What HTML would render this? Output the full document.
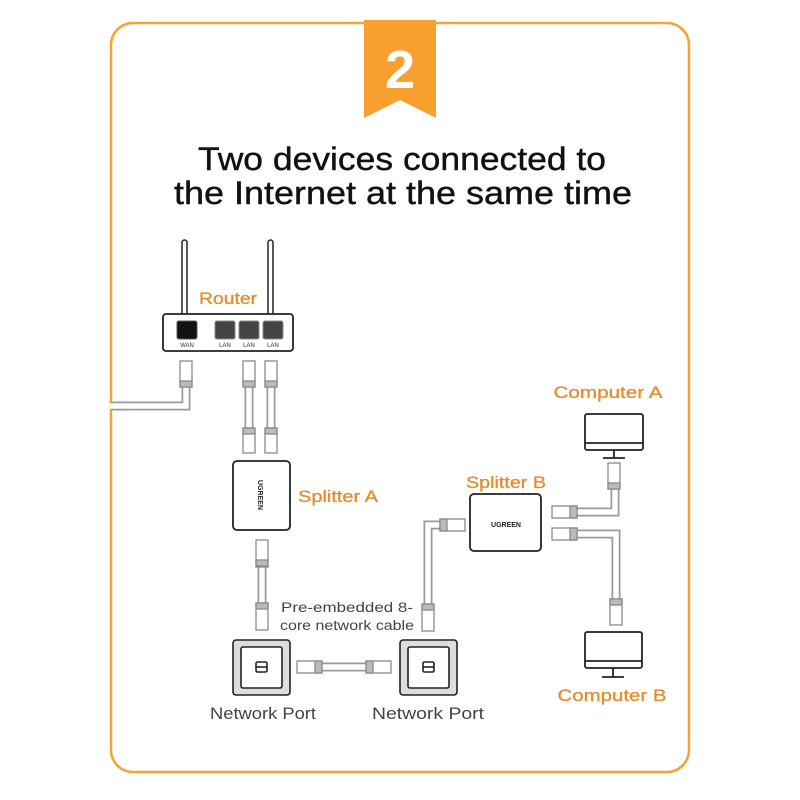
<!DOCTYPE html>
<html><head><meta charset="utf-8"><style>
html,body{margin:0;padding:0;background:#fff;}
svg{display:block;}
text{font-family:"Liberation Sans",sans-serif;}
</style></head><body>
<svg width="800" height="800" viewBox="0 0 800 800" xmlns="http://www.w3.org/2000/svg">
<rect x="0" y="0" width="800" height="800" fill="#fff"/>
<rect x="111" y="23" width="578" height="749" rx="22" fill="none" stroke="#f5a334" stroke-width="2.5"/>
<!-- badge -->
<polygon points="364,20 436,20 436,118 400,100 364,118" fill="#f7a030"/>
<text x="400" y="88" text-anchor="middle" font-size="54" font-weight="bold" fill="#fff">2</text>
<!-- title -->
<text x="402" y="170" text-anchor="middle" font-size="32" fill="#111" stroke="#111" stroke-width="0.4" textLength="408" lengthAdjust="spacingAndGlyphs">Two devices connected to</text>
<text x="403" y="204" text-anchor="middle" font-size="32" fill="#111" stroke="#111" stroke-width="0.4" textLength="458" lengthAdjust="spacingAndGlyphs">the Internet at the same time</text>

<g fill="none" stroke-linejoin="miter">
 <g stroke="#9a9a9a" stroke-width="9">
  <polyline points="186,385 186,406 111,406"/>
  <line x1="249" y1="385" x2="249" y2="430"/>
  <line x1="271" y1="385" x2="271" y2="430"/>
  <line x1="262" y1="565" x2="262" y2="605"/>
  <line x1="300" y1="667" x2="390" y2="667"/>
  <polyline points="428,607 428,525 445,525"/>
  <polyline points="572,512 615,512 615,485"/>
  <polyline points="572,534 616,534 616,602"/>
 </g>
 <g stroke="#fff" stroke-width="5.5">
  <polyline points="186,385 186,406 110,406"/>
  <line x1="249" y1="384" x2="249" y2="431"/>
  <line x1="271" y1="384" x2="271" y2="431"/>
  <line x1="262" y1="564" x2="262" y2="606"/>
  <line x1="299" y1="667" x2="391" y2="667"/>
  <polyline points="428,608 428,525 446,525"/>
  <polyline points="571,512 615,512 615,484"/>
  <polyline points="571,534 616,534 616,603"/>
 </g>
</g>

<g fill="#fff" stroke="#8a8a8a" stroke-width="1.3">
 <rect x="180" y="361" width="12" height="26"/><rect x="180" y="381" width="12" height="6" fill="#bbb"/>
 <rect x="243" y="361" width="12" height="26"/><rect x="243" y="381" width="12" height="6" fill="#bbb"/>
 <rect x="265" y="361" width="12" height="26"/><rect x="265" y="381" width="12" height="6" fill="#bbb"/>
 <rect x="243" y="428" width="12" height="25"/><rect x="243" y="428" width="12" height="6" fill="#bbb"/>
 <rect x="265" y="428" width="12" height="25"/><rect x="265" y="428" width="12" height="6" fill="#bbb"/>
 <rect x="256" y="540" width="12" height="27"/><rect x="256" y="560" width="12" height="6" fill="#bbb"/>
 <rect x="256" y="603" width="12" height="27"/><rect x="256" y="603" width="12" height="6" fill="#bbb"/>
 <rect x="422" y="604" width="12" height="27"/><rect x="422" y="604" width="12" height="6" fill="#bbb"/>
 <rect x="608" y="463" width="12" height="26"/><rect x="608" y="483" width="12" height="6" fill="#bbb"/>
 <rect x="610" y="599" width="12" height="26"/><rect x="610" y="599" width="12" height="6" fill="#bbb"/>
 <rect x="440" y="519" width="25" height="12"/><rect x="440" y="519" width="7" height="12" fill="#bbb"/>
 <rect x="552" y="506" width="25" height="12"/><rect x="570" y="506" width="7" height="12" fill="#bbb"/>
 <rect x="552" y="528" width="25" height="12"/><rect x="570" y="528" width="7" height="12" fill="#bbb"/>
 <rect x="297" y="661" width="25" height="12"/><rect x="315" y="661" width="7" height="12" fill="#bbb"/>
 <rect x="366" y="661" width="25" height="12"/><rect x="366" y="661" width="7" height="12" fill="#bbb"/>
</g>

<!-- router -->
<rect x="182" y="240" width="5" height="75" rx="2.5" fill="#fff" stroke="#222" stroke-width="1.5"/>
<rect x="268" y="240" width="5" height="75" rx="2.5" fill="#fff" stroke="#222" stroke-width="1.5"/>
<rect x="163" y="314" width="130" height="37" rx="3" fill="#fff" stroke="#222" stroke-width="1.8"/>
<rect x="177" y="321" width="20" height="18" rx="2" fill="#111" stroke="#555"/>
<rect x="215" y="321" width="20" height="18" rx="2" fill="#444" stroke="#888"/>
<rect x="239" y="321" width="20" height="18" rx="2" fill="#444" stroke="#888"/>
<rect x="263" y="321" width="20" height="18" rx="2" fill="#444" stroke="#888"/>
<g font-size="6" fill="#333" text-anchor="middle">
 <text x="187" y="347">WAN</text><text x="225" y="347">LAN</text><text x="249" y="347">LAN</text><text x="273" y="347">LAN</text>
</g>
<g fill="#e8892c" stroke="#e8892c" stroke-width="0.3" font-size="17" text-anchor="middle">
<text x="228" y="304" textLength="58" lengthAdjust="spacingAndGlyphs">Router</text>
<text x="338" y="502" textLength="80" lengthAdjust="spacingAndGlyphs">Splitter A</text>
<text x="506" y="488" textLength="80" lengthAdjust="spacingAndGlyphs">Splitter B</text>
<text x="608" y="398" textLength="109" lengthAdjust="spacingAndGlyphs">Computer A</text>
<text x="612" y="701" textLength="109" lengthAdjust="spacingAndGlyphs">Computer B</text>
</g>

<!-- splitter A -->
<rect x="233" y="461" width="57" height="69" rx="4" fill="#fff" stroke="#222" stroke-width="1.8"/>
<text x="0" y="0" font-size="7" font-weight="bold" fill="#222" text-anchor="middle" transform="translate(258,495) rotate(90)">UGREEN</text>

<!-- splitter B -->
<rect x="470" y="494" width="71" height="57" rx="4" fill="#fff" stroke="#222" stroke-width="1.8"/>
<text x="506" y="527" text-anchor="middle" font-size="7" font-weight="bold" fill="#222">UGREEN</text>

<!-- network ports -->
<g stroke="#222" stroke-width="1.6">
 <rect x="233" y="640" width="57" height="55" rx="3" fill="#ddd"/>
 <rect x="241" y="647" width="41" height="41" rx="2" fill="#fff"/>
 <rect x="256" y="662" width="11" height="10" rx="1.5" fill="#fff"/>
 <line x1="256" y1="667" x2="267" y2="667"/>
 <rect x="400" y="640" width="57" height="55" rx="3" fill="#ddd"/>
 <rect x="408" y="647" width="41" height="41" rx="2" fill="#fff"/>
 <rect x="423" y="662" width="11" height="10" rx="1.5" fill="#fff"/>
 <line x1="423" y1="667" x2="434" y2="667"/>
</g>
<g fill="#444" text-anchor="middle">
<text x="263" y="719" font-size="17" textLength="106" lengthAdjust="spacingAndGlyphs">Network Port</text>
<text x="428" y="719" font-size="17" textLength="112" lengthAdjust="spacingAndGlyphs">Network Port</text>
<text x="347" y="612" font-size="14" textLength="132" lengthAdjust="spacingAndGlyphs">Pre-embedded 8-</text>
<text x="347" y="630" font-size="14" textLength="134" lengthAdjust="spacingAndGlyphs">core network cable</text>
</g>

<!-- computers -->
<g fill="#fff" stroke="#222" stroke-width="1.8">
 <rect x="585" y="414" width="58" height="36" rx="2"/>
 <line x1="585" y1="443" x2="643" y2="443"/>
 <line x1="614" y1="450" x2="614" y2="458"/>
 <line x1="603" y1="458" x2="625" y2="458"/>
 <rect x="585" y="632" width="57" height="36" rx="2"/>
 <line x1="585" y1="661" x2="642" y2="661"/>
 <line x1="613" y1="668" x2="613" y2="677"/>
 <line x1="602" y1="677" x2="624" y2="677"/>
</g>
</svg>
</body></html>
